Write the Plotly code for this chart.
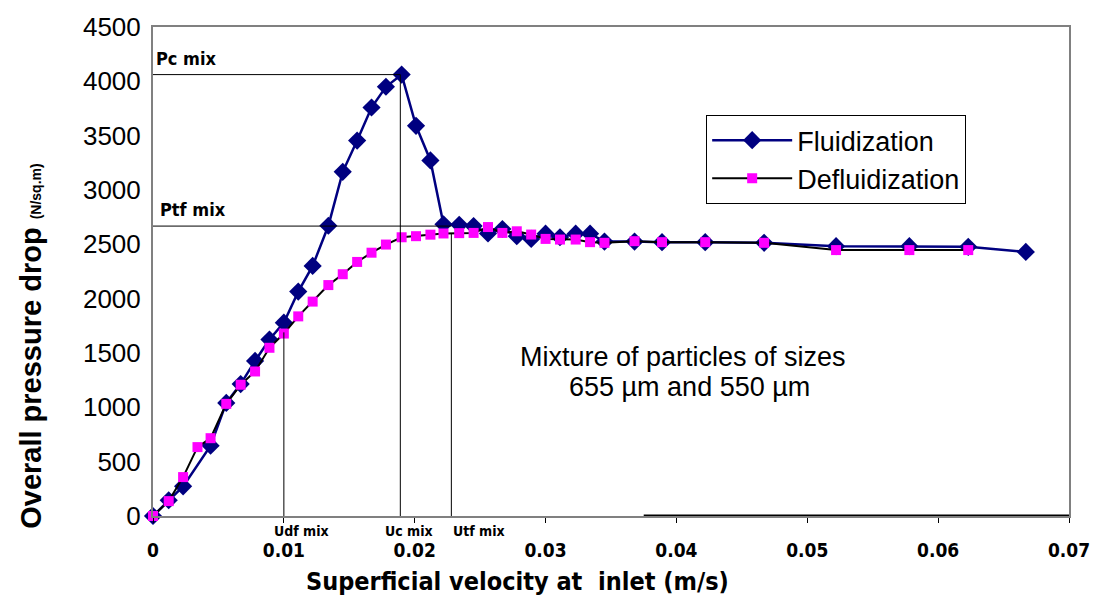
import plotly.graph_objects as go

# ---------------- data ----------------
velocity_fluid = [0, 0.0012, 0.0023, 0.0044, 0.0056, 0.0067, 0.0078, 0.0089, 0.0100, 0.0111,
                  0.0122, 0.0134, 0.0145, 0.0156, 0.0167, 0.0178, 0.0190, 0.0201, 0.0212, 0.0222,
                  0.0234, 0.0245, 0.0256, 0.0267, 0.0278, 0.0289, 0.0300, 0.0311, 0.0323, 0.0334,
                  0.0345, 0.0368, 0.0389, 0.0422, 0.0467, 0.0522, 0.0578, 0.0623, 0.0667]
dp_fluid = [0, 145, 273, 647, 1041, 1214, 1427, 1624, 1779, 2065,
            2301, 2671, 3167, 3455, 3759, 3950, 4062, 3591, 3272, 2685,
            2680, 2668, 2600, 2641, 2575, 2550, 2598, 2565, 2598, 2598,
            2525, 2525, 2520, 2520, 2514, 2483, 2483, 2477, 2430]

velocity_defluid = [0, 0.0012, 0.0023, 0.0034, 0.0044, 0.0056, 0.0067, 0.0078, 0.0089, 0.0100,
                    0.0111, 0.0122, 0.0134, 0.0145, 0.0156, 0.0167, 0.0178, 0.0190, 0.0201, 0.0212,
                    0.0222, 0.0234, 0.0245, 0.0256, 0.0267, 0.0278, 0.0289, 0.0300, 0.0311, 0.0323,
                    0.0334, 0.0345, 0.0368, 0.0389, 0.0422, 0.0467, 0.0522, 0.0578, 0.0623]
dp_defluid = [0, 137, 358, 634, 716, 1032, 1208, 1330, 1548, 1679,
              1837, 1973, 2125, 2225, 2338, 2423, 2498, 2565, 2575, 2589,
              2600, 2603, 2605, 2659, 2605, 2620, 2590, 2550, 2544, 2544,
              2520, 2514, 2529, 2520, 2520, 2514, 2447, 2447, 2447]

x_tick_vals = [0, 0.01, 0.02, 0.03, 0.04, 0.05, 0.06, 0.07]
x_tick_text = ["0", "0.01", "0.02", "0.03", "0.04", "0.05", "0.06", "0.07"]
y_tick_vals = [0, 500, 1000, 1500, 2000, 2500, 3000, 3500, 4000, 4500]

# characteristic points
U_df, U_c, U_tf = 0.0100, 0.0189, 0.0228
P_c, P_tf = 4062, 2668
P_at_Udf, P_at_Utf = 1690, 2595

series_names = ["Fluidization", "Defluidization"]
ref_labels = ["Pc mix", "Ptf mix", "Udf mix", "Uc mix", "Utf mix"]
note_lines = ["Mixture of particles of sizes", "655 µm and 550 µm"]

# ---------------- figure ----------------
NARROW = "Liberation Sans Narrow, Arial Narrow, DejaVu Sans Condensed, sans-serif"
ARIAL = "Liberation Sans, Arial, sans-serif"

L, R, T, B = 153, 25, 22, 87
W, H = 1102, 603
PW, PH = W - L - R, H - T - B


def px(xp):
    return (xp - L) / PW


def py(yp):
    return (H - B - yp) / PH


fig = go.Figure()
fig.add_trace(go.Scatter(
    x=velocity_fluid, y=dp_fluid, name=series_names[0], mode="lines+markers",
    line=dict(color="#000080", width=2.5),
    marker=dict(symbol="diamond", size=14, color="#000080"),
    cliponaxis=False))
fig.add_trace(go.Scatter(
    x=velocity_defluid, y=dp_defluid, name=series_names[1], mode="lines+markers",
    line=dict(color="#000000", width=2),
    marker=dict(symbol="square", size=10, color="#FF00FF"),
    cliponaxis=False))

line_style = dict(color="black", width=1)
shapes = [
    dict(type="line", xref="x", yref="y", x0=0, x1=U_c, y0=P_c, y1=P_c, line=line_style),
    dict(type="line", xref="x", yref="y", x0=0, x1=U_tf, y0=P_tf, y1=P_tf, line=line_style),
    dict(type="line", xref="x", yref="y", x0=U_c, x1=U_c, y0=0, y1=P_c, line=line_style),
    dict(type="line", xref="x", yref="y", x0=U_df, x1=U_df, y0=0, y1=P_at_Udf, line=line_style),
    dict(type="line", xref="x", yref="y", x0=U_tf, x1=U_tf, y0=0, y1=P_at_Utf, line=line_style),
    dict(type="line", xref="x", yref="y", x0=0.0375, x1=0.07, y0=0, y1=0,
         line=dict(color="black", width=3)),
]

p_font = dict(family=NARROW, size=18, color="black", weight="bold")
u_font = dict(family=NARROW, size=14, color="black", weight="bold")
note_font = dict(family=ARIAL, size=27, color="black")


def txt(text, xp, yp, font, xanchor="center", **kw):
    return dict(text=text, x=px(xp), y=py(yp), xref="paper", yref="paper",
                xanchor=xanchor, yanchor="middle", showarrow=False, font=font, **kw)


annotations = [
    txt(ref_labels[0], 154, 54, p_font, xanchor="left"),
    txt(ref_labels[1], 158, 206, p_font, xanchor="left"),
    txt(ref_labels[2], 303, 531, u_font),
    txt(ref_labels[3], 411, 531, u_font),
    txt(ref_labels[4], 482, 531, u_font),
    txt(note_lines[0], 688, 355, note_font),
    txt(note_lines[1], 694, 386, note_font),
    txt("Superficial velocity at  inlet (m/s)", 521, 582,
        dict(family=NARROW, size=25, color="black", weight="bold")),
    txt("Overall pressure drop <span style='font-size:14px'>(N/sq.m)</span>", 30, 345,
        dict(family=ARIAL, size=29, color="black", weight="bold"), textangle=-90),
]

fig.update_layout(
    width=W, height=H,
    margin=dict(l=L, r=R, t=T, b=B),
    paper_bgcolor="white", plot_bgcolor="white",
    shapes=shapes, annotations=annotations,
    legend=dict(x=px(711), y=py(111), xanchor="left", yanchor="top",
                bordercolor="black", borderwidth=1, bgcolor="white",
                font=dict(family=ARIAL, size=27, color="black"),
                itemwidth=80, tracegroupgap=0),
    xaxis=dict(range=[0, 0.07], tickvals=x_tick_vals, ticktext=x_tick_text,
               showgrid=False, zeroline=False, showline=True, linecolor="#808080",
               linewidth=2, mirror=True, ticks="outside", ticklen=5, tickcolor="black",
               ticklabelstandoff=11,
               tickfont=dict(family=NARROW, size=19, color="black", weight="bold")),
    yaxis=dict(range=[0, 4500], tickvals=y_tick_vals, showgrid=False, zeroline=False,
               showline=True, linecolor="#808080", linewidth=2, mirror=True,
               ticks="", ticklabelstandoff=5,
               tickfont=dict(family=ARIAL, size=26, color="black")),
    showlegend=True,
)

fig.write_html(
    "out.html",
    config={"displayModeBar": False},
    post_script=("document.body.style.margin='0px';"
                 "document.body.style.overflow='hidden';"
                 "document.documentElement.style.overflow='hidden';"),
)
